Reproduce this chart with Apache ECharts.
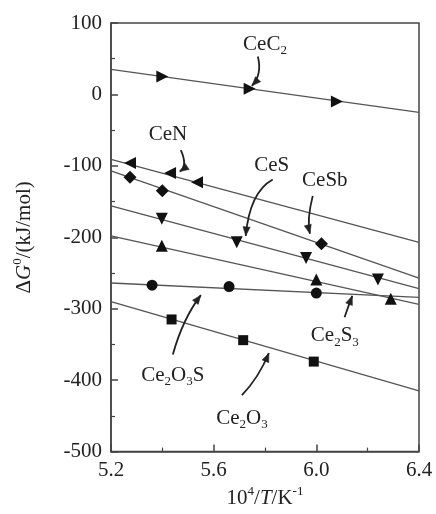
<!DOCTYPE html>
<html>
<head>
<meta charset="utf-8">
<script src="https://cdn.jsdelivr.net/npm/echarts@6/dist/echarts.min.js"></script>
<style>
html,body{margin:0;padding:0;background:#fff;}
#c{width:436px;height:514px;}
</style>
</head>
<body>
<div id="c"></div>
<script>
// ---- data ----
const lineX = [5.2, 6.4];               // fitted lines span the full x range
const xTicks = [5.2, 5.6, 6.0, 6.4];
const yTicks = [-500, -400, -300, -200, -100, 0, 100];

const CeC2_line = [35, -25];
const CeC2_x = [5.40, 5.74, 6.08];
const CeC2_y = [25, 8, -10];

const CeN_line = [-91, -207];
const CeN_x = [5.274, 5.43, 5.535];
const CeN_y = [-96, -110, -123];

const CeSb_line = [-107, -257];
const CeSb_x = [5.274, 5.40, 6.02];
const CeSb_y = [-116, -135, -209];

const CeS_line = [-156, -272];
const CeS_x = [5.398, 5.69, 5.96, 6.24];
const CeS_y = [-174, -207, -229, -259];

const Ce2S3_line = [-198, -294];
const Ce2S3_x = [5.398, 6.0, 6.29];
const Ce2S3_y = [-212, -259, -286];

const Ce2O3S_line = [-264, -284];
const Ce2O3S_x = [5.36, 5.66, 6.0];
const Ce2O3S_y = [-267, -269, -278];

const Ce2O3_line = [-290, -415];
const Ce2O3_x = [5.436, 5.715, 5.99];
const Ce2O3_y = [-315, -344, -374];

const groups = [
  {name:'CeC2',   line:CeC2_line,   x:CeC2_x,   y:CeC2_y,   symbol:'triangle', rot:-90, size:12},
  {name:'CeN',    line:CeN_line,    x:CeN_x,    y:CeN_y,    symbol:'triangle', rot:90,  size:12},
  {name:'CeSb',   line:CeSb_line,   x:CeSb_x,   y:CeSb_y,   symbol:'diamond',  rot:0,   size:13},
  {name:'CeS',    line:CeS_line,    x:CeS_x,    y:CeS_y,    symbol:'triangle', rot:180, size:12},
  {name:'Ce2S3',  line:Ce2S3_line,  x:Ce2S3_x,  y:Ce2S3_y,  symbol:'triangle', rot:0,   size:12},
  {name:'Ce2O3S', line:Ce2O3S_line, x:Ce2O3S_x, y:Ce2O3S_y, symbol:'circle',   rot:0,   size:11},
  {name:'Ce2O3',  line:Ce2O3_line,  x:Ce2O3_x,  y:Ce2O3_y,  symbol:'rect',     rot:0,   size:10}
];

// annotation labels and curved arrows (data coordinates)
const annotations = [
  {text:'{n|CeC}{sub|2}',            label:[5.80, 70],   from:[5.772, 53],  ctrl:[5.79, 28],   tip:[5.749, 12]},
  {text:'{n|CeN}',                   label:[5.422, -56], from:[5.472, -78], ctrl:[5.50, -100], tip:[5.468, -108]},
  {text:'{n|CeS}',                   label:[5.826, -100],from:[5.83, -119], ctrl:[5.74, -137], tip:[5.725, -198]},
  {text:'{n|CeSb}',                  label:[6.033, -121],from:[5.986, -142],ctrl:[5.962, -176],tip:[5.975, -195]},
  {text:'{n|Ce}{sub|2}{n|S}{sub|3}', label:[6.072, -338],from:[6.11, -312], ctrl:[6.125, -296],tip:[6.14, -282]},
  {text:'{n|Ce}{sub|2}{n|O}{sub|3}{n|S}', label:[5.441, -393], from:[5.441, -364], ctrl:[5.48, -314], tip:[5.55, -281]},
  {text:'{n|Ce}{sub|2}{n|O}{sub|3}', label:[5.71, -453], from:[5.71, -421], ctrl:[5.775, -397], tip:[5.815, -362]}
];

const FONT = 'Liberation Serif, "Times New Roman", serif';
const richStyles = {
  n:   {fontFamily: FONT, fontSize: 21, lineHeight: 26, color:'#222', verticalAlign:'middle'},
  i:   {fontFamily: FONT, fontSize: 21, lineHeight: 26, color:'#222', fontStyle:'italic', verticalAlign:'middle'},
  sub: {fontFamily: FONT, fontSize: 13, lineHeight: 13, color:'#222', verticalAlign:'bottom'},
  sup: {fontFamily: FONT, fontSize: 13, lineHeight: 13, color:'#222', verticalAlign:'top'}
};

const series = [];
groups.forEach(g => {
  series.push({
    type:'line', name:g.name + ' fit', showSymbol:false, silent:true,
    data: lineX.map((x, i) => [x, g.line[i]]),
    lineStyle:{color:'#555', width:1.3}, z:2
  });
  series.push({
    type:'scatter', name:g.name, symbol:g.symbol, symbolRotate:g.rot, symbolSize:g.size,
    data: g.x.map((x, i) => [x, g.y[i]]),
    itemStyle:{color:'#111', opacity:1}, z:3
  });
});

const chart = echarts.init(document.getElementById('c'), null, {renderer:'canvas'});
chart.setOption({
  animation:false,
  backgroundColor:'#fff',
  grid:{left:111, right:17, top:23, bottom:60, show:true, borderColor:'#444', borderWidth:1.5, backgroundColor:'transparent'},
  xAxis:{
    type:'value', min:xTicks[0], max:xTicks[xTicks.length-1], interval:0.4,
    axisLine:{show:true, onZero:false, lineStyle:{color:'#444', width:1.5}},
    axisTick:{show:true, inside:true, length:7, lineStyle:{color:'#444', width:1.5}},
    minorTick:{show:true, splitNumber:2, length:4, lineStyle:{color:'#444', width:1.2}},
    splitLine:{show:false},
    axisLabel:{margin:8, fontFamily:FONT, fontSize:21, color:'#222', formatter:v => v.toFixed(1)},
    name:'{n|10}{sup|4}{n|/}{i|T}{n|/K}{sup|-1}',
    nameLocation:'middle', nameGap:31,
    nameTextStyle:{rich:richStyles}
  },
  yAxis:{
    type:'value', min:yTicks[0], max:yTicks[yTicks.length-1], interval:100,
    axisLine:{show:true, onZero:false, lineStyle:{color:'#444', width:1.5}},
    axisTick:{show:true, inside:true, length:7, lineStyle:{color:'#444', width:1.5}},
    minorTick:{show:true, splitNumber:2, length:4, lineStyle:{color:'#444', width:1.2}},
    splitLine:{show:false},
    axisLabel:{margin:9, fontFamily:FONT, fontSize:21, color:'#222'},
    name:'{n|Δ}{i|G}{sup|0}{n|/(kJ/mol)}',
    nameLocation:'middle', nameRotate:90, nameGap:74,
    nameTextStyle:{rich:richStyles}
  },
  series:series
});

// build annotations through the axes' coordinate conversion
function px(p){ return chart.convertToPixel({gridIndex:0}, p); }
const graphics = [];
annotations.forEach(a => {
  const L = px(a.label), F = px(a.from), C = px(a.ctrl), T = px(a.tip);
  graphics.push({
    type:'text', x:L[0], y:L[1], z:10,
    style:{text:a.text, rich:richStyles, align:'center', verticalAlign:'middle', fill:'#222'}
  });
  graphics.push({
    type:'bezierCurve', z:10,
    shape:{x1:F[0], y1:F[1], cpx1:C[0], cpy1:C[1], x2:T[0], y2:T[1]},
    style:{stroke:'#222', lineWidth:1.8, fill:null}
  });
  const dx = T[0]-C[0], dy = T[1]-C[1], d = Math.hypot(dx, dy) || 1;
  const ux = dx/d, uy = dy/d, len = 9, hw = 3.6;
  const bx = T[0]-ux*len, by = T[1]-uy*len;
  graphics.push({
    type:'polygon', z:10,
    shape:{points:[[T[0], T[1]], [bx - uy*hw, by + ux*hw], [bx + uy*hw, by - ux*hw]]},
    style:{fill:'#222', stroke:'#222', lineWidth:0.5}
  });
});
chart.setOption({graphic:graphics});
</script>
</body>
</html>
